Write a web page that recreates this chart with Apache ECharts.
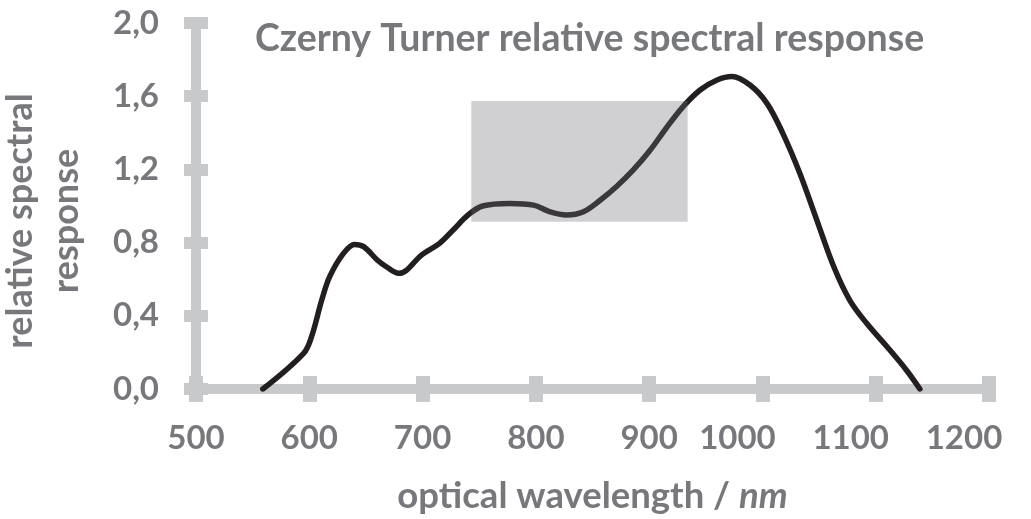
<!DOCTYPE html>
<html>
<head>
<meta charset="utf-8">
<script src="https://cdn.jsdelivr.net/npm/echarts@6/dist/echarts.min.js"></script>
<style>
html,body{margin:0;padding:0;background:#fff;}
#chart{width:1031px;height:519px;}
</style>
</head>
<body>
<div id="chart"></div>
<script>
// wavelength (nm)
const wavelengths = [559, 595, 602, 611, 618, 630, 640, 648, 660, 668, 679, 686, 699, 715, 727, 740, 753, 777, 798, 812, 827, 842, 857, 871, 886, 901, 915, 930, 945, 960, 973, 989, 1004, 1018, 1033, 1048, 1063, 1077, 1092, 1110, 1127, 1139];
// relative spectral response
const response = [0.0, 0.195, 0.286, 0.486, 0.614, 0.74, 0.79, 0.778, 0.705, 0.668, 0.632, 0.65, 0.732, 0.796, 0.869, 0.95, 1.0, 1.014, 1.005, 0.969, 0.951, 0.969, 1.033, 1.105, 1.197, 1.306, 1.425, 1.543, 1.634, 1.689, 1.708, 1.661, 1.561, 1.397, 1.179, 0.923, 0.668, 0.486, 0.359, 0.231, 0.104, 0.0];
// highlighted region [x0, x1], [y0, y1]
const boxX = [743, 934];
const boxY = [0.914, 1.574];
const yTickLabels = ['0,0', '0,4', '0,8', '1,2', '1,6', '2,0'];
const xTickLabels = ['500', '600', '700', '800', '900', '1000', '1100', '1200'];

const FONT = 'Lato';
const TXT = '#77787b';
const AX = '#c8c9cb';

const chart = echarts.init(document.getElementById('chart'), null, {renderer: 'canvas'});
const xBase = {
  type: 'value', min: 500, max: 1200, interval: 100,
  splitLine: {show: false}
};
const yBase = {
  type: 'value', min: 0, max: 2, interval: 0.4,
  splitLine: {show: false}
};
const lblStyle = {fontFamily: FONT, fontWeight: 'bold', fontSize: 33, color: TXT};
chart.setOption({
  animation: false,
  backgroundColor: '#fff',
  title: {
    text: 'Czerny Turner relative spectral response',
    left: 250, top: 15,
    textStyle: {fontFamily: FONT, fontWeight: 'bold', fontSize: 37.5, color: TXT}
  },
  grid: {left: 196, right: 42, top: 23, bottom: 130, containLabel: false, outerBoundsMode: 'none'},
  xAxis: [
    Object.assign({}, xBase, {
      position: 'bottom',
      axisLine: {show: true, lineStyle: {color: AX, width: 10}},
      axisTick: {show: true, length: 13, lineStyle: {color: AX, width: 14}},
      axisLabel: {
        margin: 33,
        formatter: function (v) {
          const s = xTickLabels[Math.round((v - 500) / 100)];
          return s.length > 3 ? '{w|' + s + '}' : '{n|' + s + '}';
        },
        rich: {
          n: lblStyle,
          w: Object.assign({}, lblStyle, {padding: [0, 50, 0, 0]})
        }
      },
      name: '{a|optical wavelength / }{b|nm}',
      nameLocation: 'middle', nameGap: 89,
      nameTextStyle: {
        rich: {
          a: {fontFamily: FONT, fontWeight: 'bold', fontSize: 36.5, color: TXT},
          b: {fontFamily: FONT, fontWeight: 'bold', fontStyle: 'italic', fontSize: 36.5, color: TXT}
        }
      }
    }),
    Object.assign({}, xBase, {
      position: 'bottom',
      axisLine: {show: false},
      axisTick: {show: true, inside: true, length: 13, lineStyle: {color: AX, width: 14}},
      axisLabel: {show: false}
    })
  ],
  yAxis: [
    Object.assign({}, yBase, {
      position: 'left',
      axisLine: {show: true, lineStyle: {color: AX, width: 10}},
      axisTick: {show: true, length: 12, lineStyle: {color: AX, width: 12}},
      axisLabel: Object.assign({
        margin: 37,
        formatter: function (v) { return yTickLabels[Math.round(v / 0.4)]; }
      }, lblStyle),
      name: 'relative spectral\nresponse',
      nameLocation: 'middle', nameGap: 107, nameRotate: 90,
      nameTextStyle: {fontFamily: FONT, fontWeight: 'bold', fontSize: 36, color: TXT, lineHeight: 46, align: 'center', padding: [0, 30, 0, 0]}
    }),
    Object.assign({}, yBase, {
      position: 'left',
      axisLine: {show: false},
      axisTick: {show: true, inside: true, length: 12, lineStyle: {color: AX, width: 12}},
      axisLabel: {show: false}
    })
  ],
  series: [
    {
      type: 'line', xAxisIndex: 0, yAxisIndex: 0, z: 2,
      data: wavelengths.map((w, i) => [w, response[i]]),
      smooth: 0.35, showSymbol: false,
      lineStyle: {color: '#231f20', width: 5.5, cap: 'round', join: 'round'}
    },
    {
      type: 'line', xAxisIndex: 0, yAxisIndex: 0, z: 10,
      data: [],
      markArea: {
        silent: true, z: 10,
        itemStyle: {color: 'rgba(108,110,114,0.32)'},
        data: [[{coord: [boxX[0], boxY[1]]}, {coord: [boxX[1], boxY[0]]}]]
      }
    }
  ]
});
</script>
</body>
</html>
